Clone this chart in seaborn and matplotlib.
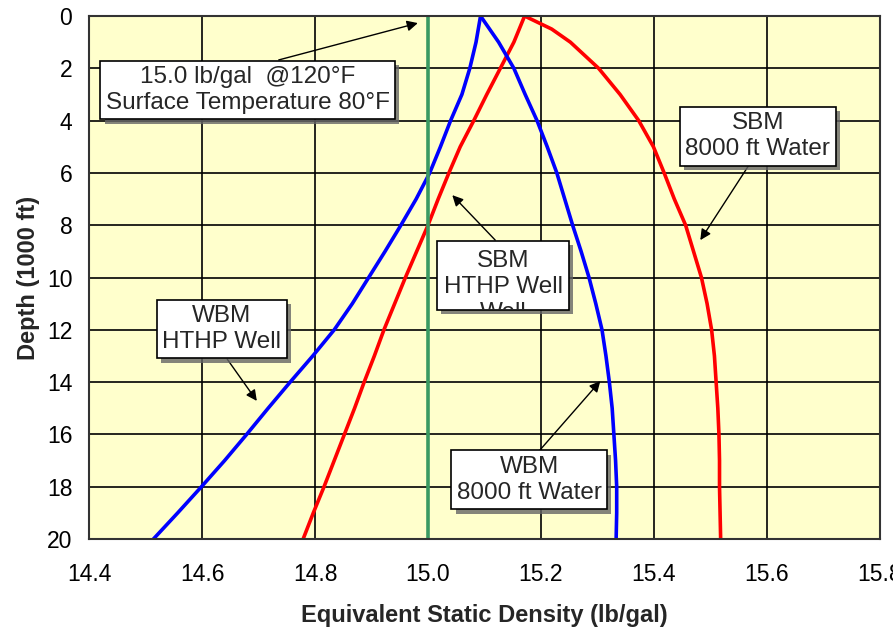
import matplotlib
matplotlib.use('Agg')
import matplotlib.pyplot as plt
import matplotlib.patheffects as pe
from matplotlib.patches import Rectangle
import pandas as pd
import seaborn as sns

# ── Data ──────────────────────────────────────────────────────────────────────
depth = [0, 1, 2, 3, 4, 5, 6, 7, 8, 9, 10, 11, 12, 13, 14, 15, 16, 17, 18, 19, 20]
wbm_hthp = [15.093, 15.085, 15.074, 15.060, 15.040, 15.022, 15.003, 14.979, 14.952, 14.924, 14.895,
            14.866, 14.834, 14.796, 14.756, 14.717, 14.679, 14.640, 14.599, 14.557, 14.514]
sbm_hthp = [15.171, 15.152, 15.128, 15.104, 15.081, 15.057, 15.037, 15.018, 15.000, 14.980, 14.960,
            14.941, 14.922, 14.905, 14.887, 14.870, 14.852, 14.834, 14.816, 14.797, 14.779]
wbm_8000 = [15.093, 15.125, 15.152, 15.172, 15.193, 15.211, 15.228, 15.242, 15.256, 15.271, 15.285,
            15.297, 15.308, 15.315, 15.321, 15.326, 15.329, 15.332, 15.334, 15.334, 15.333]

sbm_8000_depth = [0, 0.5, 1, 2, 3, 4, 5, 6, 7, 8, 9, 10, 11, 12, 13, 14, 15, 16, 17, 18, 19, 20]
sbm_8000 = [15.171, 15.219, 15.252, 15.302, 15.340, 15.373, 15.399, 15.418, 15.436, 15.456, 15.470,
            15.484, 15.494, 15.502, 15.507, 15.510, 15.513, 15.515, 15.516, 15.516, 15.517, 15.518]

ref_depth = [0, 20]
ref_density = [15.0, 15.0]

x_ticks = [14.4, 14.6, 14.8, 15.0, 15.2, 15.4, 15.6, 15.8]
y_ticks = [0, 2, 4, 6, 8, 10, 12, 14, 16, 18, 20]

series = [
    ('WBM HTHP Well', wbm_hthp, depth),
    ('SBM HTHP Well', sbm_hthp, depth),
    ('WBM 8000 ft Water', wbm_8000, depth),
    ('SBM 8000 ft Water', sbm_8000, sbm_8000_depth),
    ('15.0 lb/gal', ref_density, ref_depth),
]
df = pd.concat([pd.DataFrame({'density': x, 'depth': y, 'series': name})
                for name, x, y in series], ignore_index=True)

palette = {
    'WBM HTHP Well': '#0000FF',
    'SBM HTHP Well': '#FF0000',
    'WBM 8000 ft Water': '#0000FF',
    'SBM 8000 ft Water': '#FF0000',
    '15.0 lb/gal': '#3A9A62',
}

# ── Style ─────────────────────────────────────────────────────────────────────
sns.set_style('white')
plt.rcParams['font.family'] = ['Liberation Sans', 'DejaVu Sans']

fig = plt.figure(figsize=(8.93, 6.33), dpi=100)
ax = fig.add_axes([0.0997, 0.1485, 0.8857, 0.8262])
ax.set_facecolor('#FFFFCC')

sns.lineplot(data=df, x='density', y='depth', hue='series', palette=palette,
             sort=False, estimator=None, linewidth=2.6, legend=False, ax=ax)

ax.set_xlim(14.4, 15.8)
ax.set_ylim(20, 0)
ax.set_xticks(x_ticks)
ax.set_xticklabels([f'{v:.1f}' for v in x_ticks])
ax.set_yticks(y_ticks)
ax.tick_params(axis='both', length=0, labelsize=16.5, colors='black')
ax.tick_params(axis='x', pad=17)
ax.tick_params(axis='y', pad=12)

ax.set_axisbelow(True)
ax.grid(True, color='black', linewidth=1.2)
for s in ax.spines.values():
    s.set_visible(True)
    s.set_color('#333333')
    s.set_linewidth(1.5)

ax.set_xlabel('Equivalent Static Density (lb/gal)', fontsize=17, fontweight='bold', labelpad=13)
ax.set_ylabel('Depth (1000 ft)', fontsize=17, fontweight='bold', va='center')
ax.yaxis.set_label_coords(-0.077, 0.5)

# ── Annotations ───────────────────────────────────────────────────────────────
shadow = [pe.withSimplePatchShadow(offset=(3, -3), shadow_rgbFace='0.4', alpha=0.8)]
box = dict(boxstyle='square,pad=0.22', fc='white', ec='black', lw=1.2)
arrow = dict(arrowstyle='-|>', color='black', lw=1.0, mutation_scale=16, shrinkA=0, shrinkB=0)

notes = [
    ('15.0 lb/gal  @120°F\nSurface Temperature 80°F', (14.982, 0.27), (14.681, 2.83), (0.53, 1)),
    ('SBM\n8000 ft Water', (15.482, 8.57), (15.584, 4.59), (0.46, 0)),
    ('WBM\nHTHP Well', (14.697, 14.72), (14.635, 11.97), (0.51, 0)),
    ('WBM\n8000 ft Water', (15.305, 13.96), (15.179, 17.74), (0.54, 1)),
]
for text, xy, xytext, rel in notes:
    a = ax.annotate(text, xy=xy, xytext=xytext, ha='center', va='center',
                    fontsize=17.5, linespacing=1.25, bbox=box,
                    arrowprops=dict(arrow, relpos=rel), zorder=5)
    a.get_bbox_patch().set_path_effects(shadow)

# SBM HTHP box: its third line is cut off by the box, as in the original
rect = Rectangle((15.016, 8.60), 0.234, 2.64, transform=ax.transData,
                 fc='white', ec='black', lw=1.2, zorder=5)
rect.set_path_effects(shadow)
ax.add_patch(rect)
t = ax.text(15.133, 10.36, 'SBM\nHTHP Well\nWell', ha='center', va='center',
            fontsize=17.5, linespacing=1.25, zorder=6)
t.set_clip_on(True)
t.set_clip_box(rect.get_window_extent())
t.set_clip_path(rect)
ax.annotate('', xy=(15.043, 6.85), xytext=(15.119, 8.57), arrowprops=arrow, zorder=5)

fig.savefig('out.png', dpi=100)
